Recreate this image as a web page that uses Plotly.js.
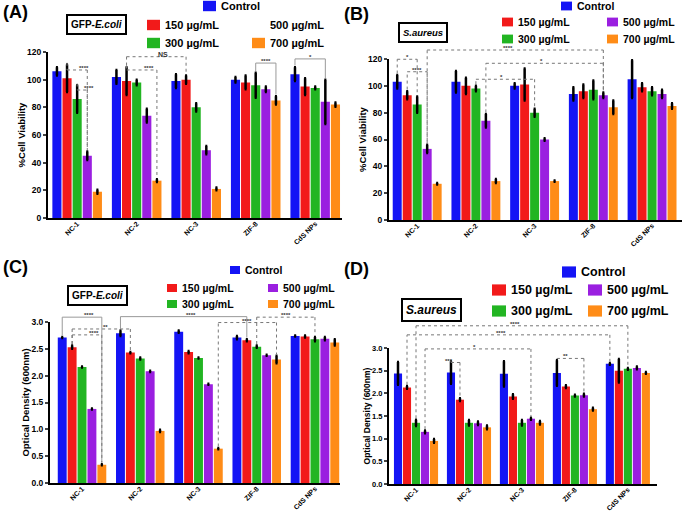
<!DOCTYPE html>
<html>
<head>
<meta charset="utf-8">
<script src="https://cdn.plot.ly/plotly-3.0.1.min.js"></script>
<style>body{margin:0;background:#fff}#plot{width:683px;height:515px}</style>
</head>
<body>
<div id="plot"></div>
<script>
// categories and series
var cats = ['NC-1', 'NC-2', 'NC-3', 'ZIF-8', 'CdS NPs'];
var series = ['Control', '150 µg/mL', '300 µg/mL', '500 µg/mL', '700 µg/mL'];
var colors = ['#1414f5', '#f21a1a', '#22b522', '#9a1fe0', '#ff8c17'];

// rows = series (Control, 150, 300, 500, 700), cols = cats
var ecoliViab = [[106, 102, 99, 100, 104], [101, 99, 100, 98, 95], [86, 98, 80, 96, 94], [45, 74, 49, 93, 84], [19, 27, 21, 85, 82]];
var ecoliViabErr = [[3, 5, 5, 2, 5], [10, 10, 3, 5, 6], [10, 2, 3, 9, 1], [3, 5, 3, 2, 16], [1.5, 1, 1, 3, 1.5]];

var aureusViab = [[103, 103, 100, 94, 105], [93, 100, 101, 96, 99], [86, 98, 80, 97, 96], [53, 74, 60, 93, 94], [27, 29, 29, 84, 85]];
var aureusViabErr = [[5, 8, 2, 5, 14], [3, 6, 12, 5, 3], [6, 2, 3, 7, 3], [3, 5, 1, 2, 3], [0.5, 1.5, 0.5, 5, 2]];

var ecoliOD = [[2.71, 2.79, 2.82, 2.71, 2.74], [2.53, 2.43, 2.44, 2.66, 2.73], [2.16, 2.32, 2.33, 2.54, 2.68], [1.38, 2.08, 1.84, 2.38, 2.69], [0.34, 0.97, 0.64, 2.30, 2.62]];
var ecoliODErr = [[0.01, 0.05, 0.02, 0.03, 0.01], [0.03, 0.01, 0.02, 0.02, 0.02], [0.01, 0.02, 0.01, 0.02, 0.04], [0.01, 0.01, 0.01, 0.01, 0.03], [0.01, 0.02, 0.01, 0.07, 0.06]];

var aureusOD = [[2.44, 2.46, 2.43, 2.45, 2.65], [2.13, 1.86, 1.93, 2.15, 2.50], [1.35, 1.35, 1.35, 1.95, 2.54], [1.15, 1.34, 1.44, 1.96, 2.56], [0.95, 1.25, 1.35, 1.65, 2.45]];
var aureusODErr = [[0.25, 0.25, 0.28, 0.28, 0.02], [0.03, 0.03, 0.05, 0.03, 0.26], [0.07, 0.06, 0.06, 0.02, 0.02], [0.03, 0.04, 0.02, 0.03, 0.03], [0.04, 0.04, 0.04, 0.03, 0.02]];

// significance brackets: [group1, bar1, group2, bar2, height, label, dotted]
var bracketsA = [[0, 1, 0, 3, 107, '****', 1], [0, 2, 0, 3, 92.5, '****', 1], [1, 1, 2, 1, 116.6, 'NS', 1], [1, 1, 1, 4, 107, '****', 1], [3, 2, 3, 4, 112, '****', 0], [4, 0, 4, 3, 115, '*', 0]];
var bracketsB = [[0, 0, 0, 2, 119.8, '*', 1], [0, 1, 0, 3, 110.5, '****', 1], [0, 3, 3, 3, 126.7, '****', 1], [1, 3, 3, 3, 116.8, '*', 1], [1, 2, 2, 2, 104.9, '*', 1]];
var bracketsC = [[0, 0, 0, 4, 3.09, '****', 0], [0, 1, 1, 1, 2.87, '**', 1], [0, 1, 0, 4, 2.76, '****', 1], [1, 0, 3, 1, 3.10, '****', 0], [2, 4, 3, 4, 2.99, '****', 1], [3, 2, 4, 2, 3.09, '****', 1]];
var bracketsD = [[0, 2, 4, 2, 3.49, '****', 1], [0, 1, 4, 0, 3.29, '****', 1], [0, 3, 2, 3, 2.98, '*', 1], [1, 0, 1, 1, 2.68, '***', 1], [3, 0, 3, 3, 2.77, '**', 1]];

var W = 683, H = 515;
var BARGAP = 0.15;
function px(x) { return x / W; }
function py(y) { return 1 - y / H; }

var panels = [
  {vals: ecoliViab, errs: ecoliViabErr, br: bracketsA, xpx: [48, 342], xr: [-0.49, 4.45], ypx: [218, 52], ymax: 120, dtick: 20, fmt: '', title: '%Cell Viability',
   label: '(A)', lab: [1, 12], box: 'GFP-<i>E.coli</i>', boxAt: [96, 24], bfs: 10, lg: {fs: 11, sw: 13, ctrl: [203, 6], r1: 25, r2: 43, c1: 147, c2: 252, no500: true}},
  {vals: aureusViab, errs: aureusViabErr, br: bracketsB, xpx: [389, 682], xr: [-0.48, 4.51], ypx: [220, 59], ymax: 120, dtick: 20, fmt: '', title: '%Cell Viability',
   label: '(B)', lab: [342, 14], box: '<i>S.aureus</i>', boxAt: [423, 32], bfs: 9.5, lg: {fs: 10.5, sw: 11, ctrl: [561, 6], r1: 22, r2: 39, c1: 502, c2: 607}},
  {vals: ecoliOD, errs: ecoliODErr, br: bracketsC, xpx: [50, 340], xr: [-0.55, 4.43], ypx: [483, 322], ymax: 3.0, dtick: 0.5, fmt: '.1f', title: 'Optical Density (600nm)',
   label: '(C)', lab: [1, 267], box: 'GFP-<i>E.coli</i>', boxAt: [97, 296], bfs: 10, lg: {fs: 10.5, sw: 10, ctrl: [230, 270], r1: 288, r2: 304, c1: 167, c2: 268}},
  {vals: aureusOD, errs: aureusODErr, br: bracketsD, xpx: [389, 657], xr: [-0.51, 4.55], ypx: [484, 348], ymax: 3.0, dtick: 0.5, fmt: '.1f', title: 'Optical Density (600nm)',
   label: '(D)', lab: [342, 269], box: '<i>S.aureus</i>', boxAt: [431, 310], bfs: 12, lg: {fs: 12.5, sw: 14, ctrl: [562, 272], r1: 290, r2: 311, c1: 492, c2: 588}}
];

var data = [];
var layout = {
  width: W, height: H,
  margin: {l: 0, r: 0, t: 0, b: 0},
  paper_bgcolor: '#fff', plot_bgcolor: 'rgba(0,0,0,0)',
  barmode: 'group', bargap: BARGAP, bargroupgap: 0.1,
  showlegend: false,
  font: {family: 'Liberation Sans, Arial, sans-serif', color: '#000'},
  shapes: [], annotations: []
};

var bold = {family: 'Liberation Sans, Arial, sans-serif', weight: 'bold', color: '#000'};

panels.forEach(function (p, k) {
  var sfx = k === 0 ? '' : String(k + 1);
  var xa = 'x' + sfx, ya = 'y' + sfx;

  for (var s = 0; s < series.length; s++) {
    data.push({
      type: 'bar', x: cats, y: p.vals[s], name: series[s], xaxis: xa, yaxis: ya,
      marker: {color: colors[s], line: {width: 0}},
      error_y: {type: 'data', array: p.errs[s], visible: true, color: '#000', thickness: 2.5, width: 1}
    });
  }

  layout['xaxis' + sfx] = {
    domain: [px(p.xpx[0]), px(p.xpx[1])], range: p.xr, anchor: ya,
    showline: true, linewidth: 2, linecolor: '#000', ticks: '', ticklabelstandoff: -3,
    tickangle: -45, tickfont: Object.assign({size: 7}, bold), showgrid: false, zeroline: false, fixedrange: true
  };
  layout['yaxis' + sfx] = {
    domain: [py(p.ypx[0]), py(p.ypx[1])], range: [0, p.ymax], anchor: xa,
    dtick: p.dtick, tickformat: p.fmt,
    showline: true, linewidth: 2, linecolor: '#000', ticks: 'outside', ticklen: 3, tickwidth: 2,
    tickfont: Object.assign({size: k === 3 ? 7.5 : 8.5}, bold), showgrid: false, zeroline: false,
    title: {text: p.title, font: Object.assign({size: k === 3 ? 8.5 : 9.5}, bold), standoff: 0}
  };

  // bracket helpers: category index + bar offset -> paper
  var slot = (1 - BARGAP) / 5;
  function bx(g, b) {
    var pos = g + (b - 2) * slot;
    return px(p.xpx[0] + (pos - p.xr[0]) / (p.xr[1] - p.xr[0]) * (p.xpx[1] - p.xpx[0]));
  }
  function by(v) { return py(p.ypx[0] + v / p.ymax * (p.ypx[1] - p.ypx[0])); }

  p.br.forEach(function (b) {
    var x1 = bx(b[0], b[1]), x2 = bx(b[2], b[3]), yt = by(b[4]);
    var gap = p.ymax * 0.01;
    var y1 = by(p.vals[b[1]][b[0]] + p.errs[b[1]][b[0]] + gap);
    var y2 = by(p.vals[b[3]][b[2]] + p.errs[b[3]][b[2]] + gap);
    var ln = {color: b[6] ? '#777' : '#999', width: 1, dash: b[6] ? 'dot' : 'solid'};
    [[x1, y1, x1, yt], [x1, yt, x2, yt], [x2, yt, x2, y2]].forEach(function (c) {
      layout.shapes.push({type: 'line', xref: 'paper', yref: 'paper', x0: c[0], y0: c[1], x1: c[2], y1: c[3], line: ln});
    });
    layout.annotations.push({xref: 'paper', yref: 'paper', x: (x1 + x2) / 2, y: yt, yanchor: 'bottom', yshift: -3,
      text: b[5], showarrow: false, font: {size: b[5] === 'NS' ? 7 : 6, color: '#333', family: bold.family, weight: 'bold'}});
  });

  // panel label
  layout.annotations.push({xref: 'paper', yref: 'paper', x: px(p.lab[0]), y: py(p.lab[1]), xanchor: 'left', yanchor: 'middle',
    text: p.label, showarrow: false, font: Object.assign({size: 18}, bold)});
  // strain box
  layout.annotations.push({xref: 'paper', yref: 'paper', x: px(p.boxAt[0]), y: py(p.boxAt[1]), xanchor: 'center', yanchor: 'middle',
    text: p.box, showarrow: false, bordercolor: '#000', borderwidth: 2, borderpad: 3, bgcolor: '#fff',
    font: Object.assign({size: p.bfs}, bold)});

  // custom legend
  var lg = p.lg;
  var spots = [[lg.ctrl[0], lg.ctrl[1]], [lg.c1, lg.r1], [lg.c1, lg.r2], [lg.c2, lg.r1], [lg.c2, lg.r2]];
  for (var i = 0; i < series.length; i++) {
    var sx = spots[i][0], sy = spots[i][1];
    if (!(lg.no500 && i === 3)) {
      layout.shapes.push({type: 'rect', xref: 'paper', yref: 'paper', x0: px(sx), x1: px(sx + lg.sw),
        y0: py(sy + lg.sw * 0.4), y1: py(sy - lg.sw * 0.4), fillcolor: colors[i], line: {width: 0}});
    }
    layout.annotations.push({xref: 'paper', yref: 'paper', x: px(sx + lg.sw + 3), y: py(sy), xanchor: 'left', yanchor: 'middle',
      text: series[i], showarrow: false, font: Object.assign({size: lg.fs}, bold)});
  }
});

Plotly.newPlot('plot', data, layout, {displayModeBar: false, staticPlot: true});
</script>
</body>
</html>
